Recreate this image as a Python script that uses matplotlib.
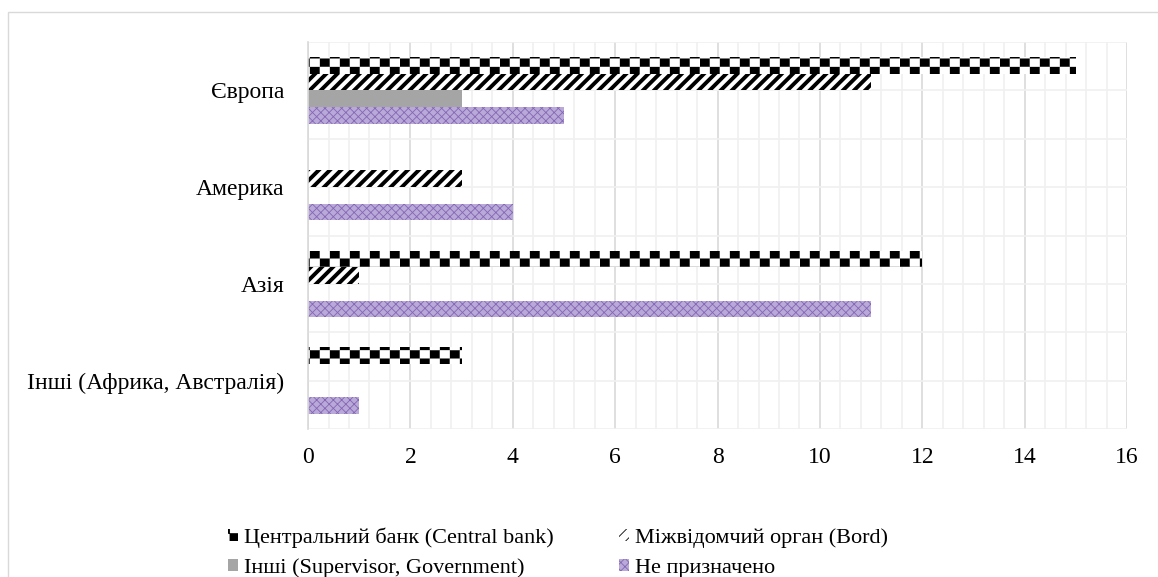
import warnings
import numpy as np
import matplotlib
matplotlib.use("Agg")
import matplotlib.pyplot as plt
import matplotlib.hatch as mhatch
from matplotlib.path import Path
from matplotlib.patches import Rectangle
from matplotlib.ticker import MultipleLocator

warnings.filterwarnings("ignore")

regions = ["Європа", "Америка", "Азія", "Інші (Африка, Австралія)"]
series = ["Центральний банк (Central bank)", "Міжвідомчий орган (Bord)",
          "Інші (Supervisor, Government)", "Не призначено"]
central_bank = [15, 0, 12, 3]
bord = [11, 3, 1, 0]
other = [3, 0, 0, 0]
not_assigned = [5, 4, 11, 1]


# checkerboard hatch, like the Excel "large checker board" fill
class CheckerHatch(mhatch.HatchPatternBase):
    def __init__(self, hatch, density):
        self.n = hatch.count('c')
        self.cols = 5 * self.n
        self.rows = 12 * self.n
        self.num_vertices = self.cols * self.rows * 5

    def set_vertices_and_codes(self, vertices, codes):
        w = 1.0 / (2 * self.cols)
        h = 1.0 / self.rows
        sq = np.array([[0, 0], [w, 0], [w, h], [0, h], [0, 0]]) * 0.96
        parts = []
        for r in range(self.rows):
            for c in range(self.cols):
                parts.append(sq + [2 * c * w + (r % 2) * w, r * h])
        vertices[:] = np.concatenate(parts)
        codes[:] = np.tile([Path.MOVETO, Path.LINETO, Path.LINETO,
                            Path.LINETO, Path.CLOSEPOLY], self.cols * self.rows)


mhatch._hatch_types.append(CheckerHatch)

plt.rcParams['font.family'] = ['Liberation Serif', 'DejaVu Serif']

fig = plt.figure(figsize=(11.58, 5.77), dpi=100)
ax = fig.add_axes([0.266, 0.2565, 0.7073, 0.6707])

y = np.arange(len(regions))
h = 0.172
styles = [
    dict(facecolor='white', edgecolor='black', hatch='c', hlw=0.2),
    dict(facecolor='white', edgecolor='black', hatch='///', hlw=2.8),
    dict(facecolor='#a5a5a5', edgecolor='#a5a5a5', hatch=None, hlw=1.0),
    dict(facecolor='#b9a9d8', edgecolor='#8466b4', hatch='xxxx', hlw=0.6),
]
data = [central_bank, bord, other, not_assigned]
handles = []
for i, (vals, st) in enumerate(zip(data, styles)):
    plt.rcParams['hatch.linewidth'] = st['hlw']
    bars = ax.barh(y + (i - 1.5) * h, vals, height=h, facecolor=st['facecolor'],
                   edgecolor=st['edgecolor'], hatch=st['hatch'], linewidth=0,
                   label=series[i])
    for p in bars:
        if hasattr(p, 'set_hatch_linewidth'):
            p.set_hatch_linewidth(st['hlw'])
    handles.append(bars)

ax.set_xlim(0, 16)
ax.set_ylim(3.5, -0.5)
ax.xaxis.set_major_locator(MultipleLocator(2))
ax.xaxis.set_minor_locator(MultipleLocator(0.4))
ax.yaxis.set_minor_locator(MultipleLocator(0.5))
ax.set_yticks(y)
ax.set_yticklabels(regions)
ax.grid(True, axis='x', which='major', color='#d9d9d9', linewidth=1.2)
ax.grid(True, axis='x', which='minor', color='#f0f0f0', linewidth=1.2)
ax.grid(True, axis='y', which='both', color='#f0f0f0', linewidth=1.2)
ax.set_axisbelow(True)
ax.tick_params(which='both', length=0, labelsize=17)
ax.tick_params(axis='x', pad=13)
ax.tick_params(axis='y', pad=17)
for s in ['top', 'right', 'bottom']:
    ax.spines[s].set_visible(False)
ax.spines['left'].set_color('#d9d9d9')
ax.spines['left'].set_linewidth(1.2)

# chart area border
fig.add_artist(Rectangle((8 / 1158, -0.1), 1.1, 1.1 - 12 / 577,
                         transform=fig.transFigure, fill=False,
                         edgecolor='#d9d9d9', linewidth=1))

# legend filled row by row like Excel
order = [0, 2, 1, 3]
fig.legend([handles[k] for k in order], [series[k] for k in order],
           loc='lower left', bbox_to_anchor=(0.18, -0.037), ncol=2,
           frameon=False, fontsize=16, handlelength=0.45, handleheight=0.45,
           handletextpad=0.25, columnspacing=2.95, labelspacing=0.5)

fig.savefig("out.png", dpi=100)
